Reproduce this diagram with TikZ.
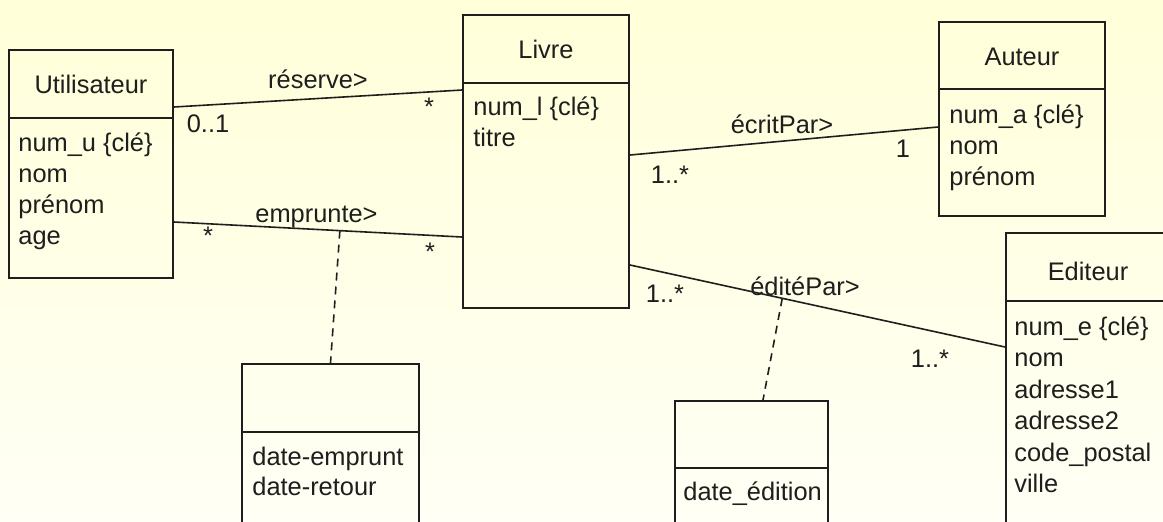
\documentclass[tikz,border=0pt]{standalone}
\usepackage{fontspec}
\setmainfont{Liberation Sans}
\usepackage{xcolor}
\definecolor{Ink}{RGB}{30,30,30}
\definecolor{BgTop}{RGB}{255,255,217}
\definecolor{BgBot}{RGB}{255,255,245}
\usepackage{tikz}
\tikzstyle{Class}=[rectangle,draw=Ink,line width=1pt,inner sep=0pt]
\tikzstyle{Assoc}=[draw=Ink,line width=.8pt]
\tikzstyle{Link}=[draw=Ink,line width=.8pt,dash pattern=on 4pt off 3pt]
\tikzstyle{Title}=[anchor=base,inner sep=0pt,text=Ink,
font=\fontsize{12.7}{15}\selectfont]
\tikzstyle{Attr}=[anchor=base west,inner sep=0pt,text=Ink,
font=\fontsize{12.7}{15}\selectfont]
\tikzstyle{Mult}=[anchor=base,inner sep=0pt,text=Ink,
font=\fontsize{12.7}{15}\selectfont]

\begin{document}
\begin{tikzpicture}[x=.5pt,y=-.5pt]
        \clip(0,0)rectangle(1163,521);
        \shade[top color=BgTop,bottom color=BgBot](0,0)rectangle(1163,521);
        % classes
        \node[Class,minimum width=82pt,minimum height=114pt](U)at(91,164){};
        \node[Class,minimum width=83pt,minimum height=146.5pt](L)at(546,161.5){};
        \node[Class,minimum width=83pt,minimum height=97pt](A)at(1022,119){};
        \node[Class,minimum width=82pt,minimum height=163.5pt](E)at(1088,396.5){};
        \node[Class,minimum width=88.5pt,minimum height=98pt](D)at(330.5,462){};
        \node[Class,minimum width=76.5pt,minimum height=79.5pt](P)at(751.5,480.5){};
        \draw[Class](U.west|-0,118)--(U.east|-0,118);
        \draw[Class](L.west|-0,83)--(L.east|-0,83);
        \draw[Class](A.west|-0,89)--(A.east|-0,89);
        \draw[Class](E.west|-0,301)--(E.east|-0,301);
        \draw[Class](D.west|-0,432)--(D.east|-0,432);
        \draw[Class](P.west|-0,468)--(P.east|-0,468);
        % titles
        \node[Title](U0)at(91,93){Utilisateur};
        \node[Title](L0)at(546,58){Livre};
        \node[Title](A0)at(1022,65){Auteur};
        \node[Title](E0)at(1088,280){Editeur};
        % attributes
        \node[Attr](U1)at(18,151){num\_u \{clé\}};
        \node[Attr](U2)at(18,182){nom};
        \node[Attr](U3)at(18,213){prénom};
        \node[Attr](U4)at(18,244){age};
        \node[Attr](L1)at(473,115){num\_l \{clé\}};
        \node[Attr](L2)at(473,146){titre};
        \node[Attr](A1)at(949,123){num\_a \{clé\}};
        \node[Attr](A2)at(949,154){nom};
        \node[Attr](A3)at(949,185){prénom};
        \node[Attr](E1)at(1014,335){num\_e \{clé\}};
        \node[Attr](E2)at(1014,366.5){nom};
        \node[Attr](E3)at(1014,398){adresse1};
        \node[Attr](E4)at(1014,429.5){adresse2};
        \node[Attr](E5)at(1014,461){code\_postal};
        \node[Attr](E6)at(1014,492.5){ville};
        \node[Attr](D1)at(252,465){date-emprunt};
        \node[Attr](D2)at(252,495){date-retour};
        \node[Attr](P1)at(683,500){date\_édition};
        % associations
        \draw[Assoc](U.east|-0,107)--(L.west|-0,90);
        \draw[Assoc](U.east|-0,222)--coordinate[pos=.576](m1)(L.west|-0,237);
        \draw[Assoc](L.east|-0,155)--(A.west|-0,127);
        \draw[Assoc](L.east|-0,265)--coordinate[pos=.406](m2)(E.west|-0,347);
        \draw[Link](m1)--(D.north);
        \draw[Link](m2)--(P.north-|763,0);
        % labels
        \node[Mult](r)at(318,88){réserve>};
        \node[Mult](r1)at(208,132){0..1};
        \node[Mult](r2)at(429,115){*};
        \node[Mult](e)at(316.5,222){emprunte>};
        \node[Mult](e1)at(208,244){*};
        \node[Mult](e2)at(430,260){*};
        \node[Mult](c)at(782,133){écritPar>};
        \node[Mult](c1)at(670,183){1..*};
        \node[Mult](c2)at(903,157){1};
        \node[Mult](d)at(805,295){éditéPar>};
        \node[Mult](d1)at(665,302){1..*};
        \node[Mult](d2)at(930,367){1..*};
    \end{tikzpicture}
\end{document}
